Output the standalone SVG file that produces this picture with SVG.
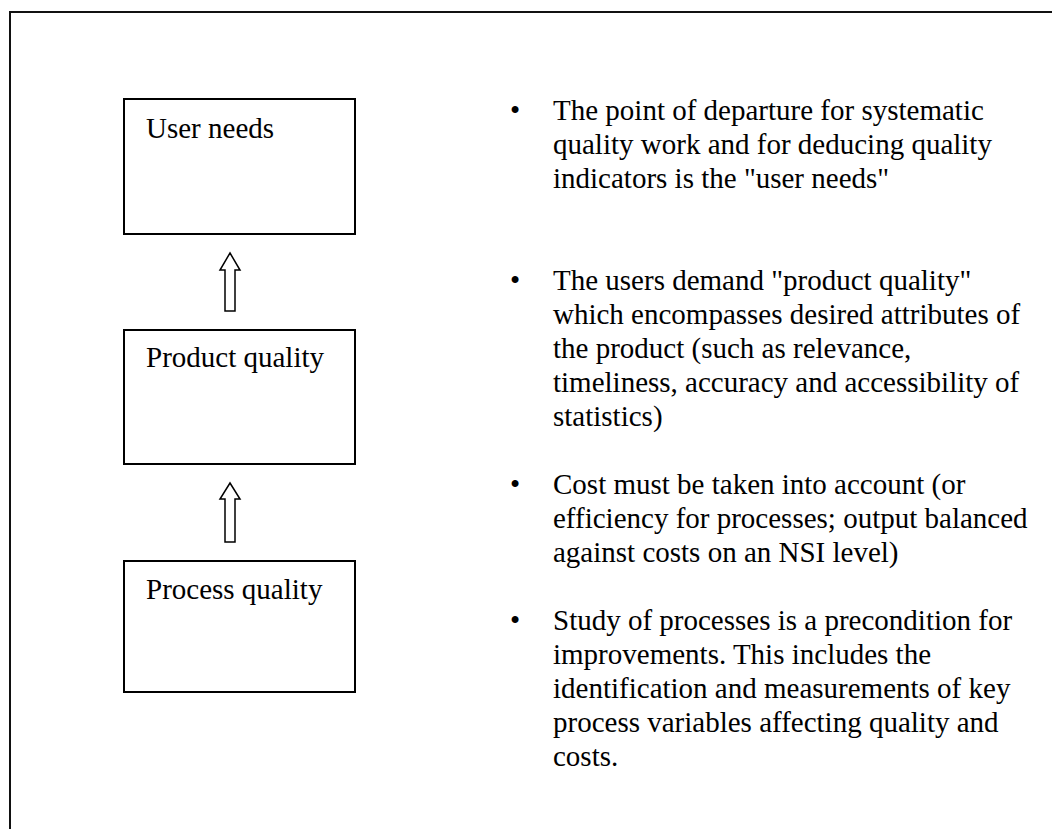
<svg xmlns="http://www.w3.org/2000/svg" width="1052" height="829" viewBox="0 0 1052 829">
  <style>
    .frame { fill: none; stroke: #111; stroke-width: 2; }
    .box { fill: #fff; stroke: #000; stroke-width: 2; }
    .arrow { fill: #fff; stroke: #000; stroke-width: 1.5; stroke-linejoin: miter; }
    .t { font-family: "Liberation Serif", "Times New Roman", serif; font-size: 29px; fill: #000; }
  </style>
  <rect width="1052" height="829" fill="#fff"/>

  <!-- open page frame: left and top edges only -->
  <path class="frame" d="M10 829 V12 H1052"/>

  <g id="user-needs">
    <rect class="box" x="124" y="99" width="231" height="135"/>
    <text class="t" x="146" y="138">User needs</text>
  </g>

  <g id="product-quality">
    <rect class="box" x="124" y="330" width="231" height="134"/>
    <text class="t" x="146" y="367">Product quality</text>
  </g>

  <g id="process-quality">
    <rect class="box" x="124" y="561" width="231" height="131"/>
    <text class="t" x="146" y="599">Process quality</text>
  </g>

  <g id="connectors">
    <path class="arrow" d="M230 253 L240 270 L235 270 L235 311 L225 311 L225 270 L220 270 Z"/>
    <path class="arrow" d="M230 483 L240 499 L235 499 L235 542 L225 542 L225 499 L220 499 Z"/>
  </g>

  <g id="notes">
    <text class="t" x="510" y="120">•</text>
    <text class="t" x="553" y="120">The point of departure for systematic</text>
    <text class="t" x="553" y="154">quality work and for deducing quality</text>
    <text class="t" x="553" y="188">indicators is the "user needs"</text>

    <text class="t" x="510" y="290">•</text>
    <text class="t" x="553" y="290">The users demand "product quality"</text>
    <text class="t" x="553" y="324">which encompasses desired attributes of</text>
    <text class="t" x="553" y="358">the product (such as relevance,</text>
    <text class="t" x="553" y="392">timeliness, accuracy and accessibility of</text>
    <text class="t" x="553" y="426">statistics)</text>

    <text class="t" x="510" y="494">•</text>
    <text class="t" x="553" y="494">Cost must be taken into account (or</text>
    <text class="t" x="553" y="528">efficiency for processes; output balanced</text>
    <text class="t" x="553" y="562">against costs on an NSI level)</text>

    <text class="t" x="510" y="630">•</text>
    <text class="t" x="553" y="630">Study of processes is a precondition for</text>
    <text class="t" x="553" y="664">improvements. This includes the</text>
    <text class="t" x="553" y="698">identification and measurements of key</text>
    <text class="t" x="553" y="732">process variables affecting quality and</text>
    <text class="t" x="553" y="766">costs.</text>
  </g>
</svg>
